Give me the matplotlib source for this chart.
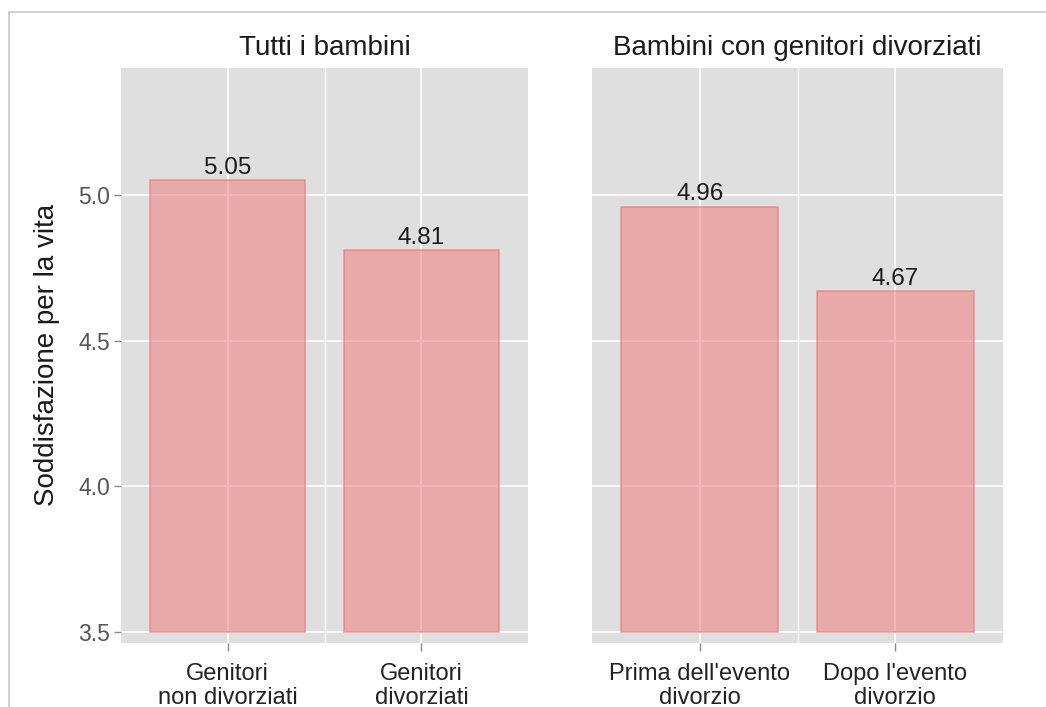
import matplotlib
matplotlib.use('Agg')
import matplotlib.pyplot as plt
from matplotlib.lines import Line2D

plt.rcParams['font.family'] = ['Liberation Sans', 'DejaVu Sans']

# dati
pannelli = ['Tutti i bambini', 'Bambini con genitori divorziati']
categorie = [['Genitori\nnon divorziati', 'Genitori\ndivorziati'],
             ["Prima dell'evento\ndivorzio", "Dopo l'evento\ndivorzio"]]
valori = [[5.05, 4.81], [4.96, 4.67]]
etichette = [['5.05', '4.81'], ['4.96', '4.67']]
y_ticks = [3.5, 4.0, 4.5, 5.0]
y_label = 'Soddisfazione per la vita'

W, H = 1046, 707
fig = plt.figure(figsize=(W / 100, H / 100), dpi=100)

# cornice dello screenshot
fig.add_artist(Line2D([9 / W, 1], [1 - 12 / H, 1 - 12 / H], color='#C8C8C8', lw=1.2))
fig.add_artist(Line2D([9 / W, 9 / W], [0, 1 - 12 / H], color='#C8C8C8', lw=1.2))

posizioni = [[121 / W, 1 - 643 / H, 407 / W, 575 / H],
             [592 / W, 1 - 643 / H, 411 / W, 575 / H]]

sfondo = '#DFDFDF'
for i in range(2):
    ax = fig.add_axes(posizioni[i])
    ax.set_facecolor(sfondo)
    x = [1, 2]
    ax.set_xlim(0.45, 2.55)
    ax.set_ylim(3.462, 5.436)
    # griglia
    for xx in [1, 1.5, 2]:
        ax.axvline(xx, color='white', lw=1.2 if xx != 1.5 else 1.0, zorder=0.5)
    for yy in y_ticks:
        ax.axhline(yy, color='white', lw=1.2, zorder=0.5)
    base = 3.5
    ax.bar(x, [v - base for v in valori[i]], bottom=base, width=0.8,
           facecolor=(241 / 255, 117 / 255, 117 / 255, 0.5),
           edgecolor=(240 / 255, 110 / 255, 110 / 255, 0.6), lw=1.2, zorder=1)
    for xx, v, t in zip(x, valori[i], etichette[i]):
        ax.annotate(t, (xx, v), xytext=(0, 1), textcoords='offset points',
                    ha='center', va='bottom', fontsize=17.5, color='#1A1A1A')
    ax.set_xticks(x)
    ax.set_xticklabels(categorie[i], fontsize=17, color='#222222', linespacing=1.1)
    ax.set_yticks(y_ticks)
    if i == 0:
        ax.set_yticklabels(['%.1f' % v for v in y_ticks], fontsize=16.5, color='#555555')
    else:
        ax.set_yticklabels([])
    ax.tick_params(axis='y', color='#888888', length=5, width=1, pad=3)
    ax.tick_params(axis='x', color='#888888', length=5.5, width=1, pad=9)
    if i == 1:
        ax.tick_params(axis='y', length=0)
    for s in ax.spines.values():
        s.set_visible(False)
    ax.text(0.5, 1 + 20 / 575, pannelli[i], transform=ax.transAxes,
            ha='center', va='center', fontsize=20, color='#1A1A1A')

fig.text(47 / W, 1 - 355 / H, y_label, rotation=90, ha='center', va='center',
         fontsize=20, color='#1A1A1A')

plt.savefig('out.png', dpi=100)
